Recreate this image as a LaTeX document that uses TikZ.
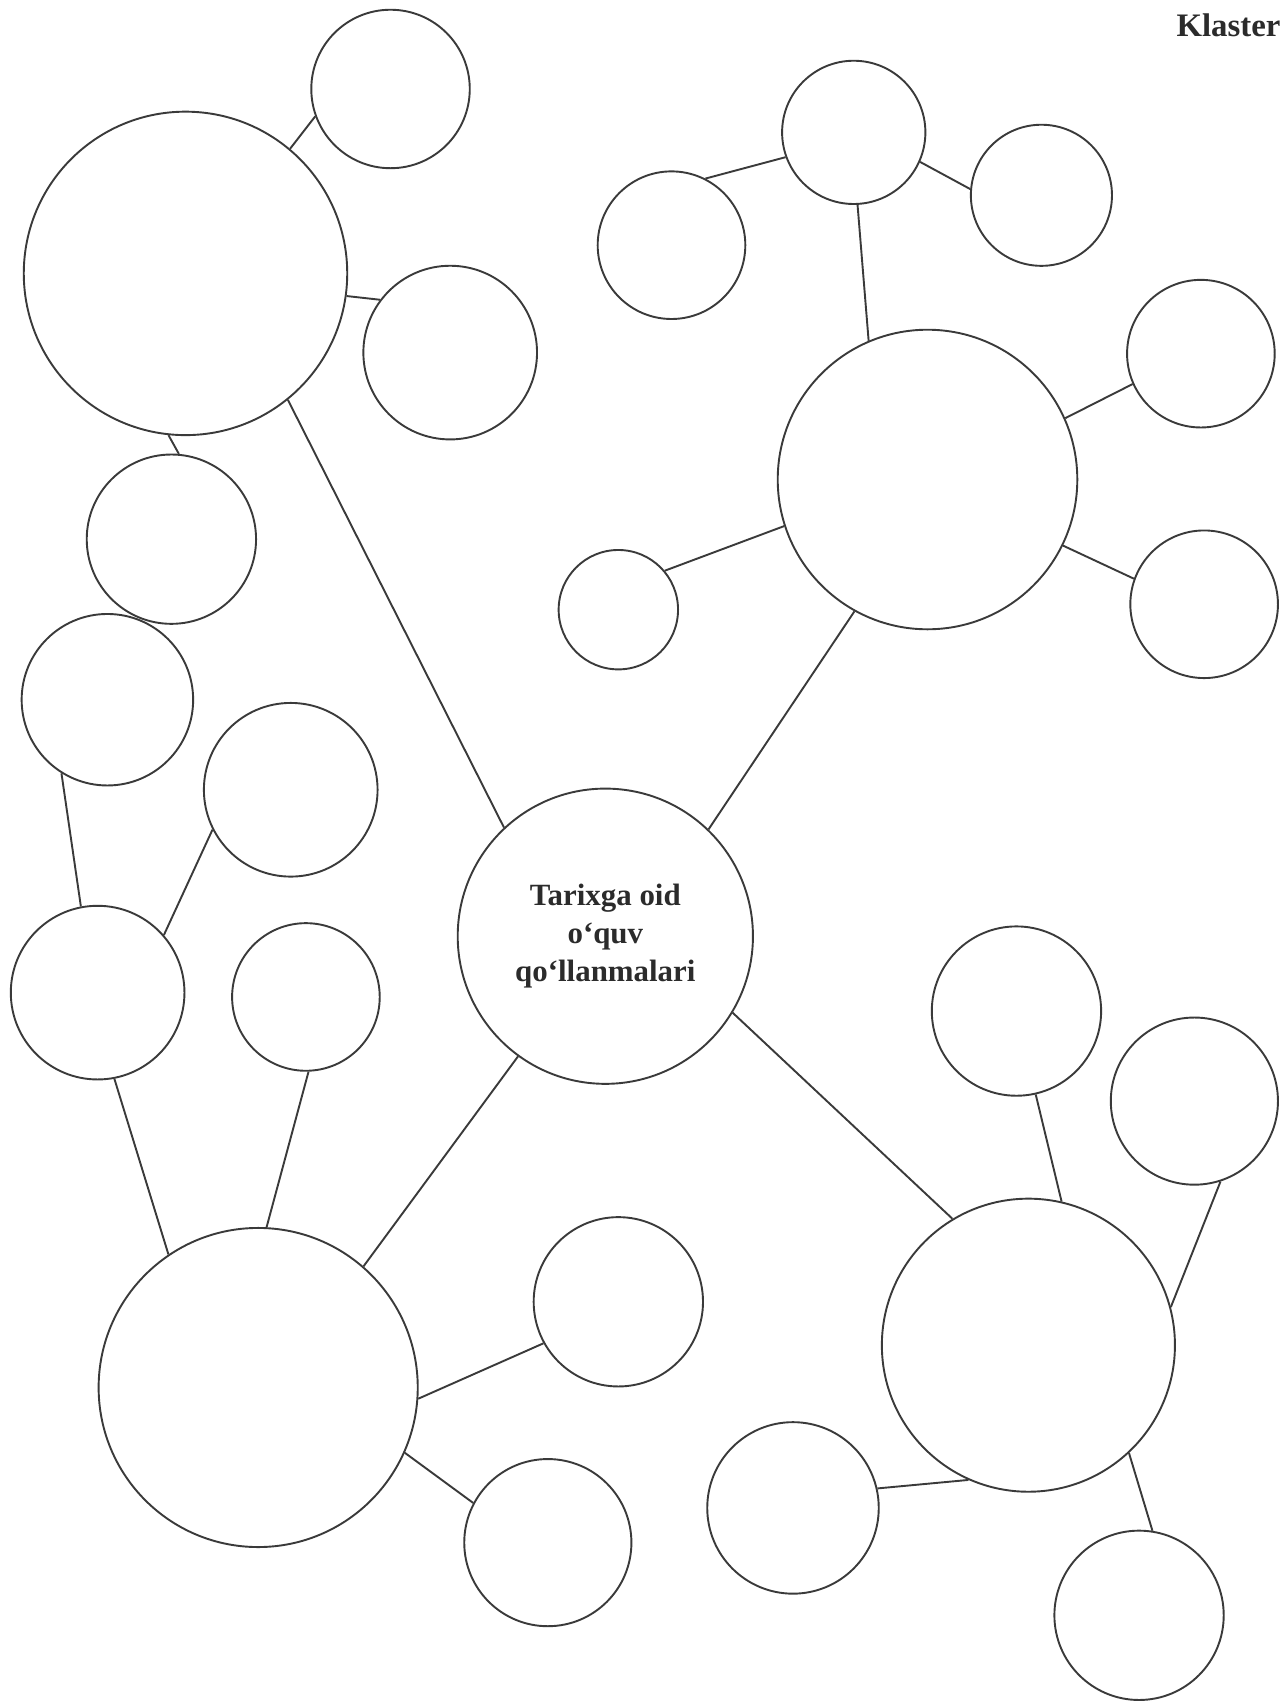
\documentclass[tikz,border=0pt]{standalone}
\usepackage{fontspec}
\setmainfont{Liberation Serif}
\usepackage{xcolor}
\usetikzlibrary{positioning}
\definecolor{Ink}{HTML}{2B2B2B}
\definecolor{Rim}{HTML}{3A3A3A}
\tikzset{
  bubble/.style={circle,draw=Rim,line width=0.5pt,minimum size=#1,inner sep=0pt},
  link/.style={draw=Rim,line width=0.5pt},
  title/.style={font=\fontsize{8.6}{10}\selectfont\bfseries,text=Ink,inner sep=0pt}
}

\begin{document}
\begin{tikzpicture}[x=0.01cm,y=-0.01cm]
  \useasboundingbox (0,0) rectangle (1187,1568);
  % title
  \node[title,anchor=north east] (head) at (1181,12) {Klaster};
  % centre
  \node[bubble=2.72cm,align=center,font=\fontsize{8.1}{10}\selectfont\bfseries,text=Ink] (core) at (558,863) {Tarixga oid\\o‘quv\\qo‘llanmalari};
  % top-left group
  \node[bubble=2.98cm] (tl) at (171,252) {};
  \node[bubble=1.46cm] (tla) at (360,82) {};
  \node[bubble=1.60cm] (tlb) at (415,325) {};
  \node[bubble=1.56cm] (tlc) at (158,497) {};
  % top-right group
  \node[bubble=2.76cm] (tr) at (855,442) {};
  \node[bubble=1.32cm] (tra) at (787,122) {};
  \node[bubble=1.36cm] (trb) at (619,226) {};
  \node[bubble=1.30cm] (trc) at (960,180) {};
  \node[bubble=1.36cm] (trd) at (1107,326) {};
  \node[bubble=1.36cm] (tre) at (1110,557) {};
  \node[bubble=1.10cm] (trf) at (570,562) {};
  % bottom-left group
  \node[bubble=2.94cm] (bl) at (238,1279) {};
  \node[bubble=1.58cm] (bla) at (99,645) {};
  \node[bubble=1.60cm] (blb) at (268,728) {};
  \node[bubble=1.60cm] (blc) at (90,915) {};
  \node[bubble=1.36cm] (bld) at (282,919) {};
  \node[bubble=1.56cm] (ble) at (570,1200) {};
  \node[bubble=1.54cm] (blf) at (505,1422) {};
  % bottom-right group
  \node[bubble=2.70cm] (br) at (948,1240) {};
  \node[bubble=1.56cm] (bra) at (937,932) {};
  \node[bubble=1.54cm] (brb) at (1101,1015) {};
  \node[bubble=1.58cm] (brc) at (731,1390) {};
  \node[bubble=1.56cm] (brd) at (1050,1489) {};
  % links
  \draw[link] (tl.50) -- (tla.200);
  \draw[link] (tl.-8) -- (tlb.143);
  \draw[link] (tl.-96) -- (tlc.85);
  \draw[link] (tl.-51) -- (core.133);
  \draw[link] (trb.63) -- (tra.200);
  \draw[link] (tra.-24) -- (trc.175);
  \draw[link] (tra.-87) -- (tr.113);
  \draw[link] (tr.24) -- (trd.204);
  \draw[link] (tr.-26) -- (tre.160);
  \draw[link] (trf.40) -- (tr.198);
  \draw[link] (tr.-119) -- (core.46);
  \draw[link] (bla.-122) -- (blc.101);
  \draw[link] (blb.207) -- (blc.41);
  \draw[link] (blc.-79) -- (bl.124);
  \draw[link] (bld.-88) -- (bl.87);
  \draw[link] (core.-126) -- (bl.49);
  \draw[link] (bl.-4) -- (ble.209);
  \draw[link] (bl.-24) -- (blf.152);
  \draw[link] (core.-31) -- (br.121);
  \draw[link] (bra.-77) -- (br.77);
  \draw[link] (brb.-72) -- (br.15);
  \draw[link] (brc.13) -- (br.-114);
  \draw[link] (br.-47) -- (brd.81);
\end{tikzpicture}
\end{document}
